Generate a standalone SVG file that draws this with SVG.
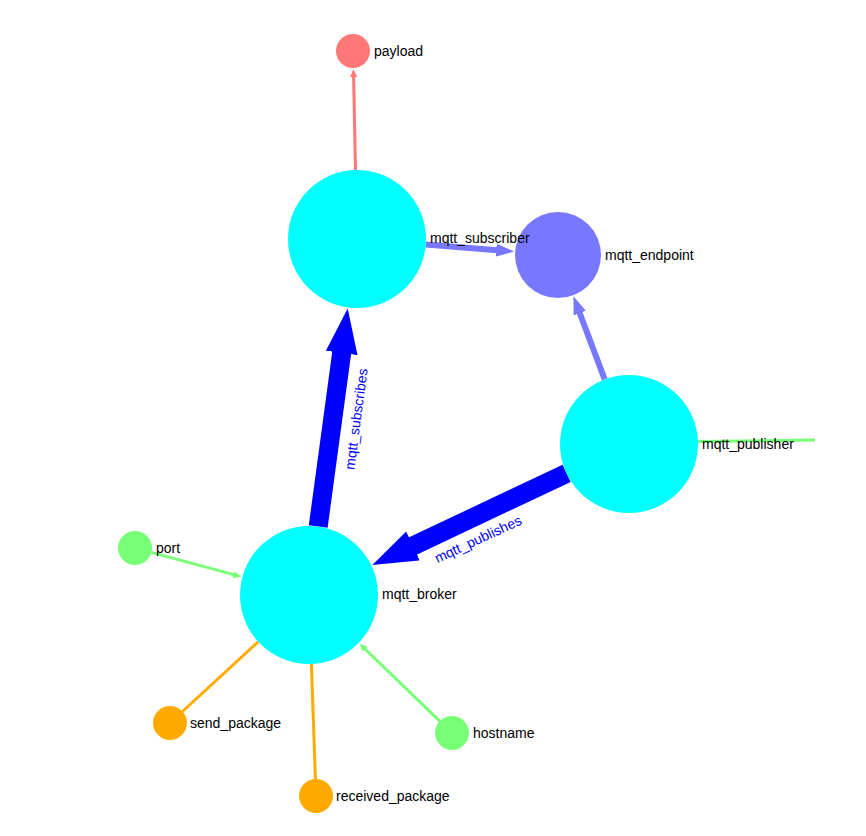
<svg xmlns="http://www.w3.org/2000/svg" width="866" height="836" viewBox="0 0 866 836">
<style>
.lbl{font-family:"Liberation Sans",Arial,sans-serif;font-size:14px;fill:#000}
.elbl{font-family:"Liberation Sans",Arial,sans-serif;font-size:14px;fill:#0000ff;text-anchor:middle}
.hub{fill:#00ffff}
.edge{fill:none;stroke-linecap:butt}
</style>
<defs>
<marker id="ahBig" markerUnits="userSpaceOnUse" markerWidth="46" markerHeight="34" refX="1" refY="16" orient="auto"><path d="M0,0 L45,16 L0,32 z" fill="#0000ff"/></marker>
<marker id="ahMid" markerUnits="userSpaceOnUse" markerWidth="20" markerHeight="14" refX="1" refY="6.5" orient="auto"><path d="M0,0 L18,6.5 L0,13 z" fill="#7777ff"/></marker>
<marker id="ahRed" markerUnits="userSpaceOnUse" markerWidth="10" markerHeight="8" refX="1" refY="3.5" orient="auto"><path d="M0,0 L8,3.5 L0,7 z" fill="#ff7777"/></marker>
<marker id="ahGreen" markerUnits="userSpaceOnUse" markerWidth="10" markerHeight="8" refX="1" refY="3.5" orient="auto"><path d="M0,0 L8,3.5 L0,7 z" fill="#77ff77"/></marker>
</defs>
<rect width="866" height="836" fill="#ffffff"/>
<g id="edges">
<path class="edge" d="M355.5,170 L353.6,76" stroke="#ff7777" stroke-width="3" marker-end="url(#ahRed)"/>
<path class="edge" d="M425.8,244.5 L497.2,250.2" stroke="#7777ff" stroke-width="6" marker-end="url(#ahMid)"/>
<path class="edge" d="M604.7,379.4 L579.4,312.2" stroke="#7777ff" stroke-width="6" marker-end="url(#ahMid)"/>
<path class="edge" d="M318.2,526.6 L341.8,352" stroke="#0000ff" stroke-width="19" marker-end="url(#ahBig)"/>
<path class="edge" d="M566.6,473.4 L412.1,546.3" stroke="#0000ff" stroke-width="19" marker-end="url(#ahBig)"/>
<path class="edge" d="M151.4,552.4 L234.7,574.9" stroke="#77ff77" stroke-width="3" marker-end="url(#ahGreen)"/>
<path class="edge" d="M439.8,721.2 L364.5,648.5" stroke="#77ff77" stroke-width="3" marker-end="url(#ahGreen)"/>
<path class="edge" d="M258.2,641.8 L182.5,711.5" stroke="#ffaa00" stroke-width="3"/>
<path class="edge" d="M311.4,664 L315.4,779" stroke="#ffaa00" stroke-width="3"/>
<path class="edge" d="M697.5,441.5 L815,440" stroke="#77ff77" stroke-width="3"/>
<text class="elbl" transform="translate(356,419) rotate(-82.5)" y="5">mqtt_subscribes</text>
<text class="elbl" transform="translate(478,539) rotate(-24.9)" y="5">mqtt_publishes</text>
</g>
<g id="payload"><circle cx="353" cy="51" r="17" fill="#ff7777"/><text class="lbl" x="374" y="56">payload</text></g>
<g id="mqtt_endpoint"><circle cx="558" cy="255" r="43" fill="#7777ff"/><text class="lbl" x="605" y="260">mqtt_endpoint</text></g>
<g id="mqtt_subscriber"><circle class="hub" cx="357" cy="239" r="69"/><text class="lbl" x="430" y="243">mqtt_subscriber</text></g>
<g id="mqtt_publisher"><circle class="hub" cx="629" cy="444" r="69"/><text class="lbl" x="702" y="449">mqtt_publisher</text></g>
<g id="mqtt_broker"><circle class="hub" cx="309" cy="595" r="69"/><text class="lbl" x="382" y="599">mqtt_broker</text></g>
<g id="port"><circle cx="135" cy="548" r="17" fill="#77ff77"/><text class="lbl" x="156" y="553">port</text></g>
<g id="send_package"><circle cx="170" cy="723" r="17" fill="#ffaa00"/><text class="lbl" x="190" y="728">send_package</text></g>
<g id="received_package"><circle cx="316" cy="796" r="17" fill="#ffaa00"/><text class="lbl" x="336" y="801">received_package</text></g>
<g id="hostname"><circle cx="452" cy="733" r="17" fill="#77ff77"/><text class="lbl" x="473" y="738">hostname</text></g>
</svg>
